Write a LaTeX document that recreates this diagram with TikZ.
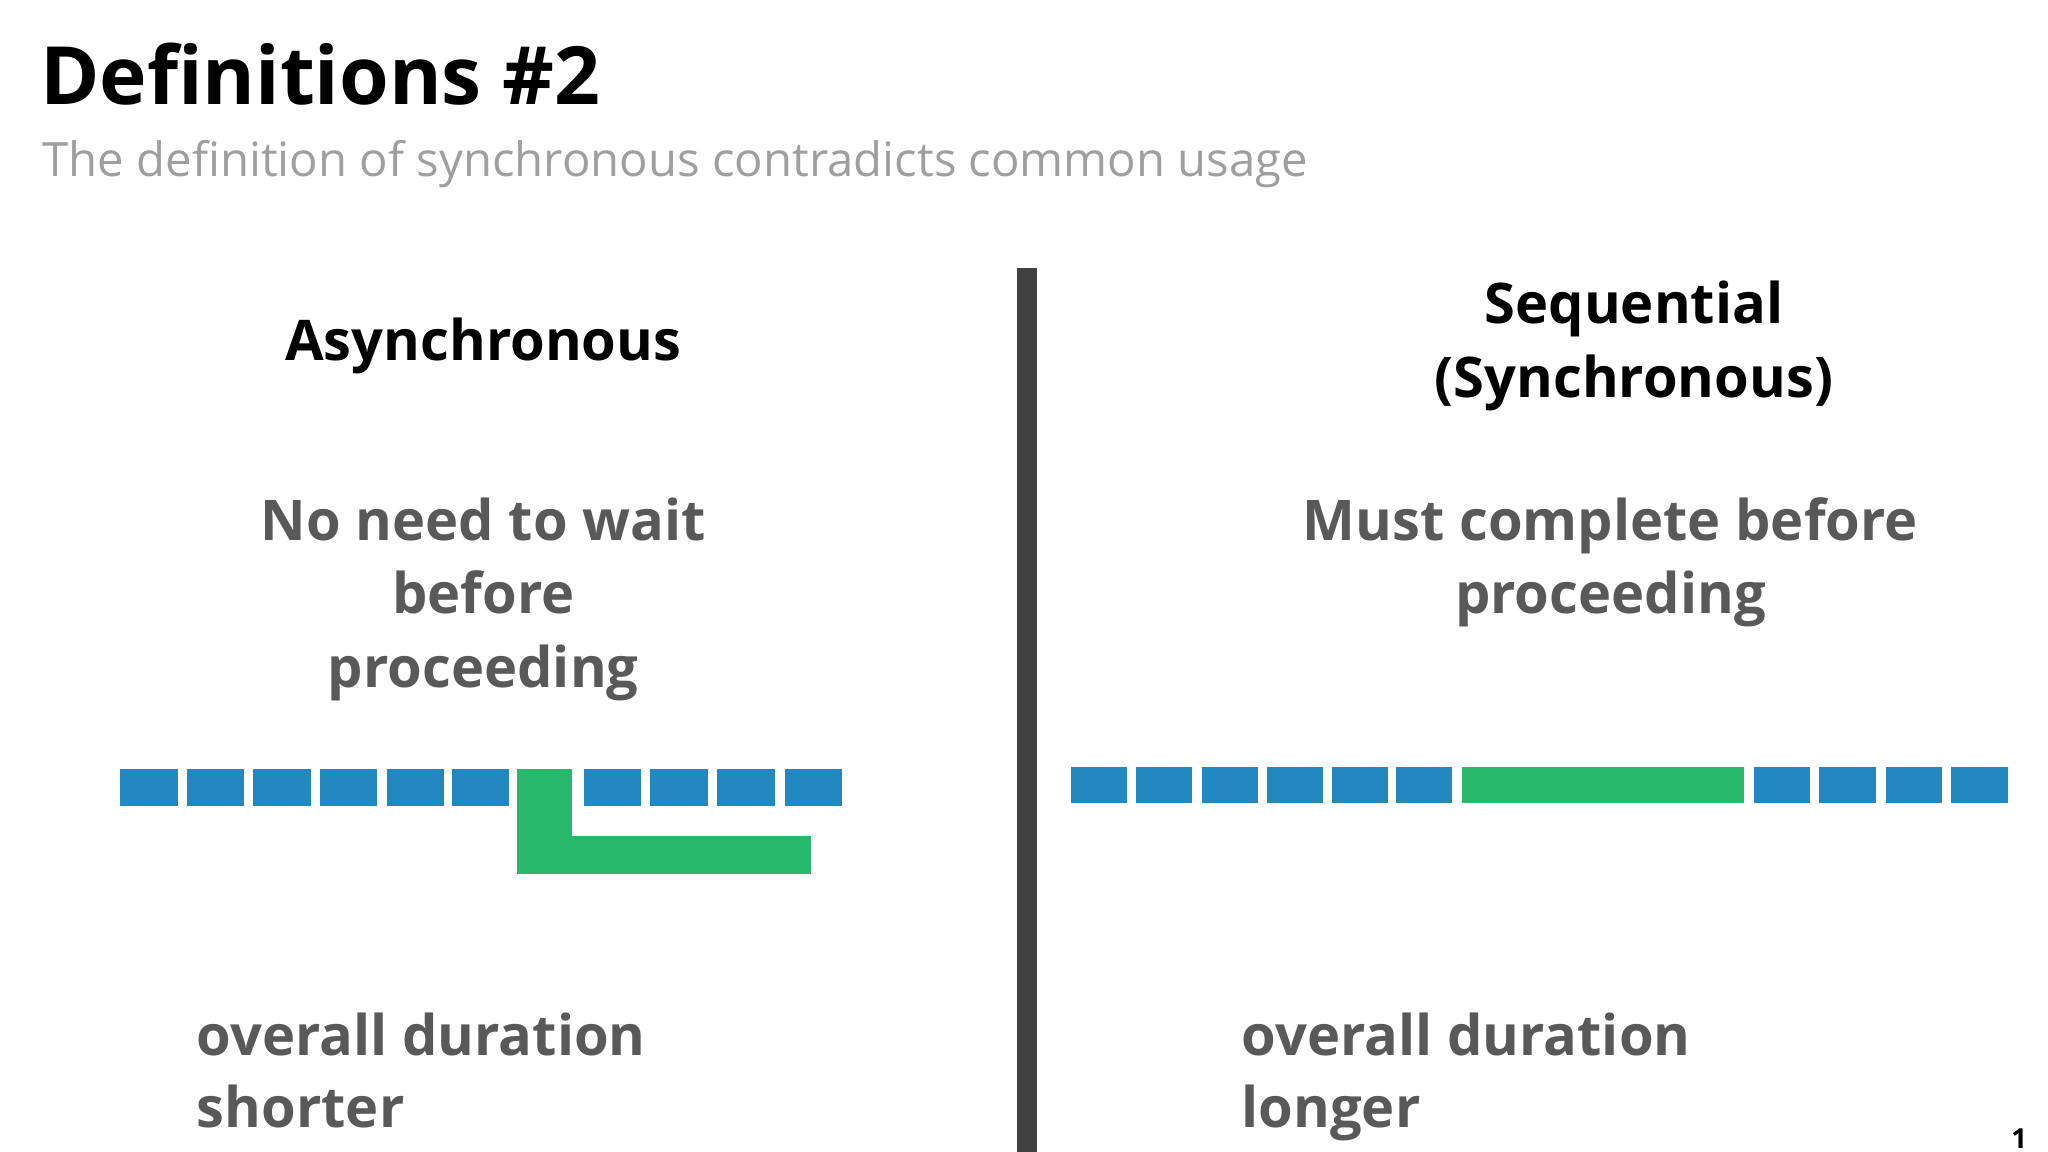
\documentclass[tikz,border=0pt]{standalone}
\usepackage{fontspec}
\setmainfont{Open Sans}
\definecolor{blu}{HTML}{2388C0}
\definecolor{grn}{HTML}{27B86B}
\definecolor{txt}{HTML}{595959}
\definecolor{bar}{HTML}{404040}
\tikzset{
 blk/.style={fill=blu,draw=none},
 gblk/.style={fill=grn,draw=none},
 head/.style={font=\fontsize{12.2}{16}\selectfont\bfseries,align=center,text=black,anchor=base,inner sep=0},
 body/.style={font=\fontsize{12.2}{15.9}\selectfont\bfseries,align=center,text=txt,anchor=base,inner sep=0},
 bodyl/.style={font=\fontsize{12.2}{15.6}\selectfont\bfseries,align=left,text=txt,anchor=base west,inner sep=0},
}
\begin{document}
\begin{tikzpicture}[x=0.01cm,y=-0.01cm]
\useasboundingbox (0,0) rectangle (1568,882);
\node[anchor=base west,font=\fontsize{17.5}{20}\selectfont\bfseries,inner sep=0] (title) at (30,80) {Definitions \#2};
\node[anchor=base west,font=\fontsize{10.3}{12}\selectfont,text=gray!75,inner sep=0] (sub) at (32,135) {The definition of synchronous contradicts common usage};
\fill[bar] (779,205) rectangle (794,882);
\node[head] (ah) at (370,276) {Asynchronous};
\node[head] (sh) at (1251,304) {Sequential\\(Synchronous)};
\node[body] (ab) at (370,526) {No need to wait\\before\\proceeding};
\node[body] (sb) at (1233,470) {Must complete before\\proceeding};
\node[bodyl] (ad) at (150,863) {overall duration\\shorter};
\node[bodyl] (sd) at (950,863) {overall duration\\longer};
\node[font=\fontsize{6}{7}\selectfont\bfseries] (pn) at (1546,872) {1};
% left row
\foreach \x in {92,143,194,245,296,346,447,498,549,601}
  \fill[blk] (\x,589) rectangle ++(44,28);
\fill[gblk] (396,589) rectangle (438,669);
\fill[gblk] (396,640) rectangle (621,669);
% right row
\foreach \x in {820,870,920,970,1020,1069,1343,1393,1444,1494}
  \fill[blk] (\x,587) rectangle ++(43,28);
\fill[gblk] (1119,587) rectangle (1335,615);
\end{tikzpicture}
\end{document}
